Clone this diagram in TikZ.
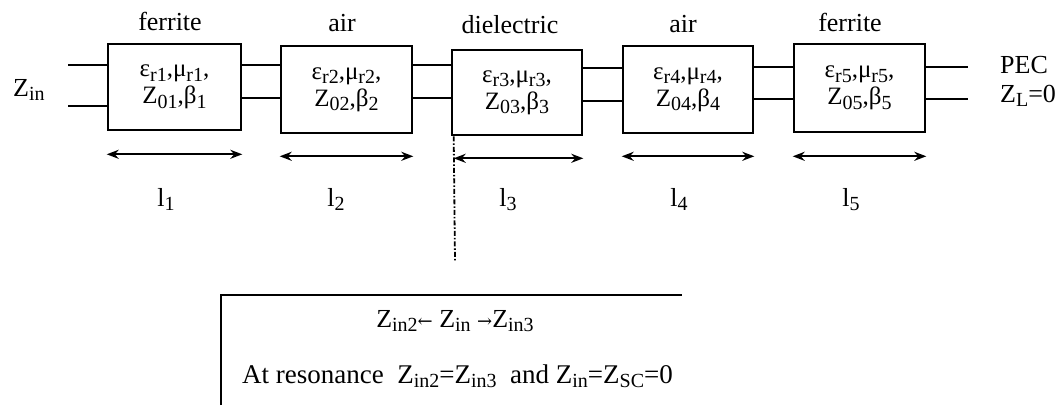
\documentclass[tikz,border=0pt]{standalone}
\usepackage{fontspec}
\setmainfont{Liberation Serif}
\newfontfamily\arrfont{DejaVu Serif}
\usetikzlibrary{arrows.meta}
\newcommand\sbs[1]{\raisebox{-0.4ex}{\fontsize{20}{20}\selectfont #1}}
\begin{document}
\begin{tikzpicture}[x=1pt,y=-1pt,
  lay/.style={draw, line width=2.6pt, inner sep=0pt, align=center,
    font=\fontsize{25}{27}\selectfont},
  wire/.style={line width=1.9pt},
  dim/.style={line width=2.2pt, {Stealth[length=12pt,width=9pt]}-{Stealth[length=12pt,width=9pt]}},
  lbl/.style={font=\fontsize{26}{28}\selectfont, inner sep=0pt},
  cut/.style={line width=1.8pt, dash pattern=on 5pt off 2pt on 1.5pt off 2pt},
  frame/.style={line width=2.6pt}]
\useasboundingbox (0,0) rectangle (1060,405);

% layer boxes
\node[lay, minimum width=133pt, minimum height=86pt] (b1) at (174.5,87) {ε\sbs{r1},μ\sbs{r1},\\Z\sbs{01},β\sbs{1}};
\node[lay, minimum width=131pt, minimum height=87pt] (b2) at (346.5,89.5) {ε\sbs{r2},μ\sbs{r2},\\Z\sbs{02},β\sbs{2}};
\node[lay, minimum width=130pt, minimum height=85pt] (b3) at (517,92.5) {ε\sbs{r3},μ\sbs{r3},\\Z\sbs{03},β\sbs{3}};
\node[lay, minimum width=130pt, minimum height=87pt] (b4) at (688,89.5) {ε\sbs{r4},μ\sbs{r4},\\Z\sbs{04},β\sbs{4}};
\node[lay, minimum width=131pt, minimum height=88pt] (b5) at (859.5,88) {ε\sbs{r5},μ\sbs{r5},\\Z\sbs{05},β\sbs{5}};

% material labels
\node[lbl, anchor=base] (m1) at (170,30) {ferrite};
\node[lbl, anchor=base] (m2) at (342,31) {air};
\node[lbl, anchor=base] (m3) at (510,33) {dielectric};
\node[lbl, anchor=base] (m4) at (683,32) {air};
\node[lbl, anchor=base] (m5) at (850,31) {ferrite};

% terminals
\node[lbl, anchor=base west] (zin) at (13,96) {Z\sbs{in}};
\node[lbl, anchor=base west] (pec) at (1000,73) {PEC};
\node[lbl, anchor=base west] (zl) at (1000,102) {Z\sbs{L}=0};

% wire levels
\coordinate (inT) at (68,65);
\coordinate (inB) at (68,106);
\coordinate (outT) at (968,67);
\coordinate (outB) at (968,99);
\coordinate (l12t) at (0,65);  \coordinate (l12b) at (0,98);
\coordinate (l23t) at (0,65);  \coordinate (l23b) at (0,98);
\coordinate (l34t) at (0,68);  \coordinate (l34b) at (0,101);
\coordinate (l45t) at (0,67);  \coordinate (l45b) at (0,99);

\draw[wire] (inT) -- (inT -| b1.west);
\draw[wire] (inB) -- (inB -| b1.west);
\draw[wire] (b1.east |- l12t) -- (b2.west |- l12t);
\draw[wire] (b1.east |- l12b) -- (b2.west |- l12b);
\draw[wire] (b2.east |- l23t) -- (b3.west |- l23t);
\draw[wire] (b2.east |- l23b) -- (b3.west |- l23b);
\draw[wire] (b3.east |- l34t) -- (b4.west |- l34t);
\draw[wire] (b3.east |- l34b) -- (b4.west |- l34b);
\draw[wire] (b4.east |- l45t) -- (b5.west |- l45t);
\draw[wire] (b4.east |- l45b) -- (b5.west |- l45b);
\draw[wire] (b5.east |- outT) -- (outT);
\draw[wire] (b5.east |- outB) -- (outB);

% length arrows
\draw[dim] ([yshift=-23pt]b1.south west) -- ([yshift=-23pt]b1.south east);
\draw[dim] ([yshift=-22pt]b2.south west) -- ([yshift=-22pt]b2.south east);
\draw[dim] ([xshift=3pt,yshift=-22pt]b3.south west) -- ([yshift=-22pt]b3.south east);
\draw[dim] ([yshift=-22pt]b4.south west) -- ([yshift=-22pt]b4.south east);
\draw[dim] ([yshift=-23pt]b5.south west) -- ([yshift=-23pt]b5.south east);

% length labels
\node[lbl, anchor=base] (len1) at (166,206) {l\sbs{1}};
\node[lbl, anchor=base] (len2) at (336,206) {l\sbs{2}};
\node[lbl, anchor=base] (len3) at (508,206) {l\sbs{3}};
\node[lbl, anchor=base] (len4) at (679,206) {l\sbs{4}};
\node[lbl, anchor=base] (len5) at (851,206) {l\sbs{5}};

% cut line
\coordinate (cutB) at (455,262);
\draw[cut] ([xshift=3pt]b3.south west) -- (cutB);

% bottom box
\coordinate (fBL) at (221,405);
\coordinate (fTL) at (221,295);
\coordinate (fTR) at (682,295);
\draw[frame] (fBL) -- (fTL) -- (fTR);
\node[lbl, anchor=base] (bt1) at (455,327) {Z\sbs{in2}{\fontsize{18}{18}\arrfont ←} Z\sbs{in} {\fontsize{18}{18}\arrfont →}Z\sbs{in3}};
\node[lbl, anchor=base west, font=\fontsize{27}{29}\selectfont] (bt2) at (242,383) {At resonance\ \ Z\sbs{in2}=Z\sbs{in3}\ \ and Z\sbs{in}=Z\sbs{SC}=0};
\end{tikzpicture}
\end{document}
